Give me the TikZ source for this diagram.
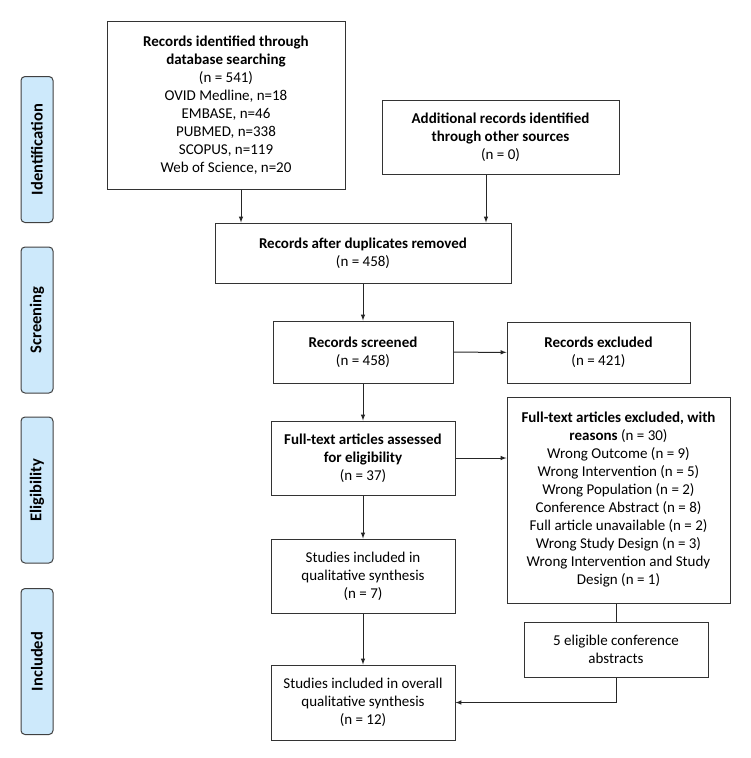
\documentclass[tikz,border=0pt]{standalone}
\usepackage{fontspec}
\setmainfont{Carlito}
\usetikzlibrary{positioning,calc}
\definecolor{stagefill}{RGB}{205,233,251}

\begin{document}
\begin{tikzpicture}[x=1pt,y=-1pt]
\tikzstyle{box}=[rectangle, draw=black!80, line width=1pt, inner sep=0pt, align=center, font=\fontsize{15}{18}\selectfont]
\tikzstyle{stage}=[rectangle, rounded corners=4pt, draw=black!75, line width=1pt, fill=stagefill, rotate=90, minimum width=146pt, minimum height=32pt, inner sep=0pt, font=\fontsize{16.5}{18}\selectfont\bfseries]
\tikzstyle{connect}=[-latex, line width=1pt, draw=black!85]
  \useasboundingbox (0,0) rectangle (750,758);
  % stages
  \node[stage] (ident) at (37,149.5) {Identification};
  \node[stage] (screen) at (37,320) {Screening};
  \node[stage] (elig) at (37,490) {Eligibility};
  \node[stage] (incl) at (37,661.5) {Included};
  % flow boxes
  \node[box, minimum width=238pt, minimum height=168pt] (db) at (226,105)
    {\textbf{Records identified through}\\\textbf{database searching}\\(n = 541)\\OVID Medline, n=18\\EMBASE, n=46\\PUBMED, n=338\\SCOPUS, n=119\\Web of Science, n=20};
  \node[box, minimum width=237pt, minimum height=74pt] (other) at (500.5,137)
    {\textbf{Additional records identified}\\\textbf{through other sources}\\(n = 0)};
  \node[box, minimum width=296pt, minimum height=60pt] (dup) at (363,253)
    {\textbf{Records after duplicates removed}\\(n = 458)};
  \node[box, minimum width=180pt, minimum height=62pt] (screened) at (363,352)
    {\textbf{Records screened}\\(n = 458)};
  \node[box, minimum width=183pt, minimum height=61pt] (excl) at (598.5,352.5)
    {\textbf{Records excluded}\\(n = 421)};
  \node[box, minimum width=184pt, minimum height=74pt] (assessed) at (363,458)
    {\textbf{Full-text articles assessed}\\\textbf{for eligibility}\\(n = 37)};
  \node[box, minimum width=223pt, minimum height=206pt] (ftexcl) at (618.5,500)
    {\textbf{Full-text articles excluded, with}\\\textbf{reasons} (n = 30)\\Wrong Outcome (n = 9)\\Wrong Intervention (n = 5)\\Wrong Population (n = 2)\\Conference Abstract (n = 8)\\Full article unavailable (n = 2)\\Wrong Study Design (n = 3)\\Wrong Intervention and Study\\Design (n = 1)};
  \node[box, minimum width=184pt, minimum height=74pt] (qual) at (363,576)
    {Studies included in\\qualitative synthesis\\(n = 7)};
  \node[box, minimum width=184pt, minimum height=55pt] (conf) at (616,649.5)
    {5 eligible conference\\abstracts};
  \node[box, minimum width=184pt, minimum height=75pt] (overall) at (363,702.5)
    {Studies included in overall\\qualitative synthesis\\(n = 12)};
  % connectors
  \path ([xshift=15pt]db.south) edge [connect] ([xshift=15pt]db.south |- dup.north)
        ([xshift=-14.5pt]other.south) edge [connect] ([xshift=-14.5pt]other.south |- dup.north)
        (dup) edge [connect] (screened)
        (screened) edge [connect] (excl)
        (screened) edge [connect] (assessed)
        (assessed.east) edge [connect] (assessed.east -| ftexcl.west)
        (assessed) edge [connect] (qual)
        (qual) edge [connect] (overall);
  \draw[line width=1pt, draw=black!85] (conf.north |- ftexcl.south) -- (conf.north);
  \draw[connect] (conf.south) |- (overall.east);
\end{tikzpicture}
\end{document}
